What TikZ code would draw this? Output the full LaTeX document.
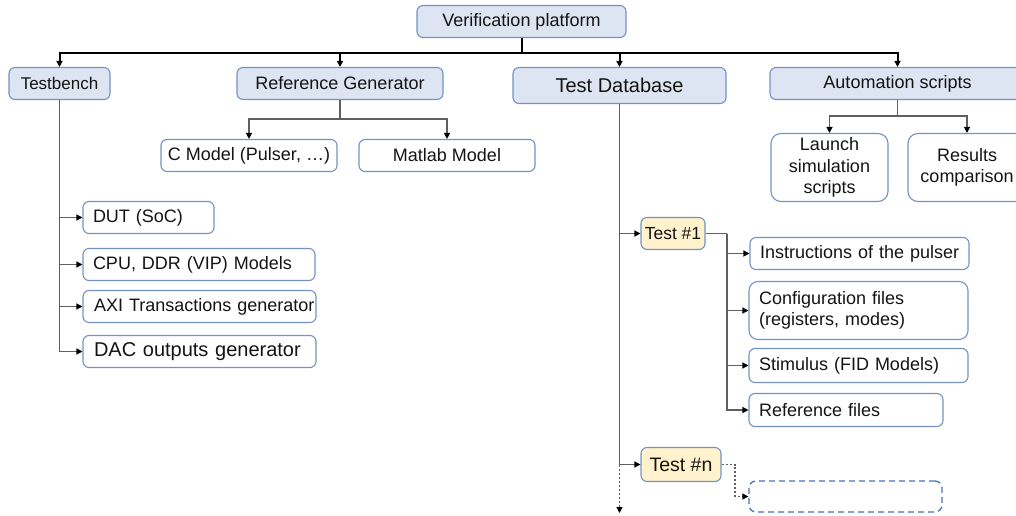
\documentclass[tikz,border=0pt]{standalone}
\usepackage{fontspec}
\setmainfont{Liberation Sans}
\usetikzlibrary{arrows.meta}
\definecolor{topfill}{RGB}{220,229,241}
\definecolor{bord}{RGB}{116,146,196}
\definecolor{testfill}{RGB}{255,242,204}
\definecolor{conn}{RGB}{95,95,95}
\definecolor{dashb}{RGB}{70,115,190}
\definecolor{txt}{RGB}{20,20,20}
\begin{document}
\begin{tikzpicture}[x=1pt,y=-1pt,
  base/.style={draw=bord, line width=1.1pt, rounded corners=6pt, inner sep=0pt, text=txt,
               font=\fontsize{18}{21.6}\selectfont, align=center},
  sz/.style 2 args={minimum width=#1pt, minimum height=#2pt},
  topbox/.style={base, fill=topfill},
  child/.style={base, fill=white},
  lbox/.style={child, align=left, inner xsep=10pt, text width=#1pt},
  testbox/.style={base, fill=testfill},
  dashbox/.style={draw=dashb, line width=1.3pt, dash pattern=on 6pt off 4pt, rounded corners=7pt, inner sep=0pt},
  tip/.style={-{Triangle[length=6pt,width=6pt,color=black]}},
  bus/.style={draw=black, line width=2pt, tip},
  link/.style={draw=conn, line width=1.2pt, tip},
  plain/.style={draw=conn, line width=1.2pt},
  dotlink/.style={draw=conn, line width=1.1pt, dash pattern=on 2pt off 2pt, tip},
]
\clip (0,0) rectangle (1016,516);
\fill[white] (0,0) rectangle (1016,516);

% top level
\node[topbox, sz={209}{32}] (vp) at (521.5,21.5) {Verification platform};
\node[topbox, sz={101}{32}, font=\fontsize{17}{20}\selectfont] (tb) at (59.5,83.5) {Testbench};
\node[topbox, sz={206}{32}] (rg) at (340,83.5) {Reference Generator};
\node[topbox, sz={213}{36}, font=\fontsize{20}{24}\selectfont] (td) at (619.5,85.5) {Test Database};
\node[topbox, sz={255}{32}] (as) at (897.5,83.5) {Automation scripts};

% reference generator children
\node[child, sz={176}{32}] (cm) at (249,155.5) {C Model (Pulser, …)};
\node[child, sz={176}{32}] (mm) at (447,155.5) {Matlab Model};

% automation children
\node[child, sz={117}{68}, rounded corners=10pt] (ls) at (829.5,167.5) {Launch\\simulation\\scripts};
\node[child, sz={118}{68}, rounded corners=10pt] (rc) at (967,167.5) {Results\\comparison};

% testbench children
\node[lbox=111, sz={131}{32}] (dut) at (148.5,217.5) {\mbox{DUT (SoC)}};
\node[lbox=212, sz={232}{32}] (cpu) at (199,264.5) {\mbox{CPU, DDR (VIP) Models}};
\node[child, align=left, inner xsep=0pt, text width=233pt, sz={233}{32}] (axi) at (199.5,306.5) {\mbox{\hspace*{11pt}AXI Transactions generator}};
\node[lbox=211, inner xsep=11pt, sz={233}{32}, font=\fontsize{20}{24}\selectfont] (dac) at (199.5,351.5) {\mbox{DAC outputs generator}};

% tests
\node[testbox, sz={64}{32}, font=\fontsize{17.5}{21}\selectfont] (t1) at (673,233.5) {Test \#1};
\node[testbox, sz={80}{34}, font=\fontsize{19.5}{23}\selectfont] (tn) at (681,464.5) {Test \#n};

% test #1 children
\node[lbox=199, sz={219}{32}] (ins) at (859.5,253.5) {\mbox{Instructions of the pulser}};
\node[lbox=199, sz={219}{58}, rounded corners=9pt] (cfg) at (858.5,310.5) {Configuration files\\(registers, modes)};
\node[lbox=199, sz={219}{34}] (stim) at (858.5,365.5) {\mbox{Stimulus (FID Models)}};
\node[lbox=174, sz={194}{33}] (reff) at (846,410) {\mbox{Reference files}};

% empty dashed box
\node[dashbox, sz={193}{31}] (dbox) at (845.5,496.5) {};

% bus from platform
\draw[bus] (vp.south) -- ++(0,15) -| (tb.north);
\draw[bus] (vp.south) -- ++(0,15) -| (rg.north);
\draw[bus] (vp.south) -- ++(0,15) -| (td.north);
\draw[bus] (vp.south) -- ++(0,15) -| (as.north);

% reference generator
\coordinate (rgj) at (340,119);
\draw[plain] (rg.south) -- (rgj);
\draw[link] (rgj) -| (cm.north);
\draw[link] (rgj) -| (mm.north);

% automation
\coordinate (asj) at (897.5,116);
\draw[plain] (as.south) -- (asj);
\draw[link] (asj) -| (ls.north);
\draw[link] (asj) -| (rc.north);

% testbench
\draw[link] (tb.south) |- (dut.west);
\draw[link] (tb.south) |- (cpu.west);
\draw[link] (tb.south) |- (axi.west);
\draw[link] (tb.south) |- (dac.west);

% test database
\coordinate (tdend) at (619.5,513);
\draw[link] (td.south) |- (t1.west);
\draw[link] (td.south) |- (tn.west);
\draw[dotlink] (tn.west -| td.south) -- (tdend);

% test #1
\coordinate (t1j) at (727,233.5);
\draw[plain] (t1.east) -- (t1j);
\draw[link] (t1j) |- (ins.west);
\draw[link] (t1j) |- (cfg.west);
\draw[link] (t1j) |- (stim.west);
\draw[link] (t1j) |- (reff.west);

% test #n
\coordinate (tnj) at (735,464.5);
\draw[dotlink] (tn.east) -- (tnj) |- (dbox.west);
\end{tikzpicture}
\end{document}
